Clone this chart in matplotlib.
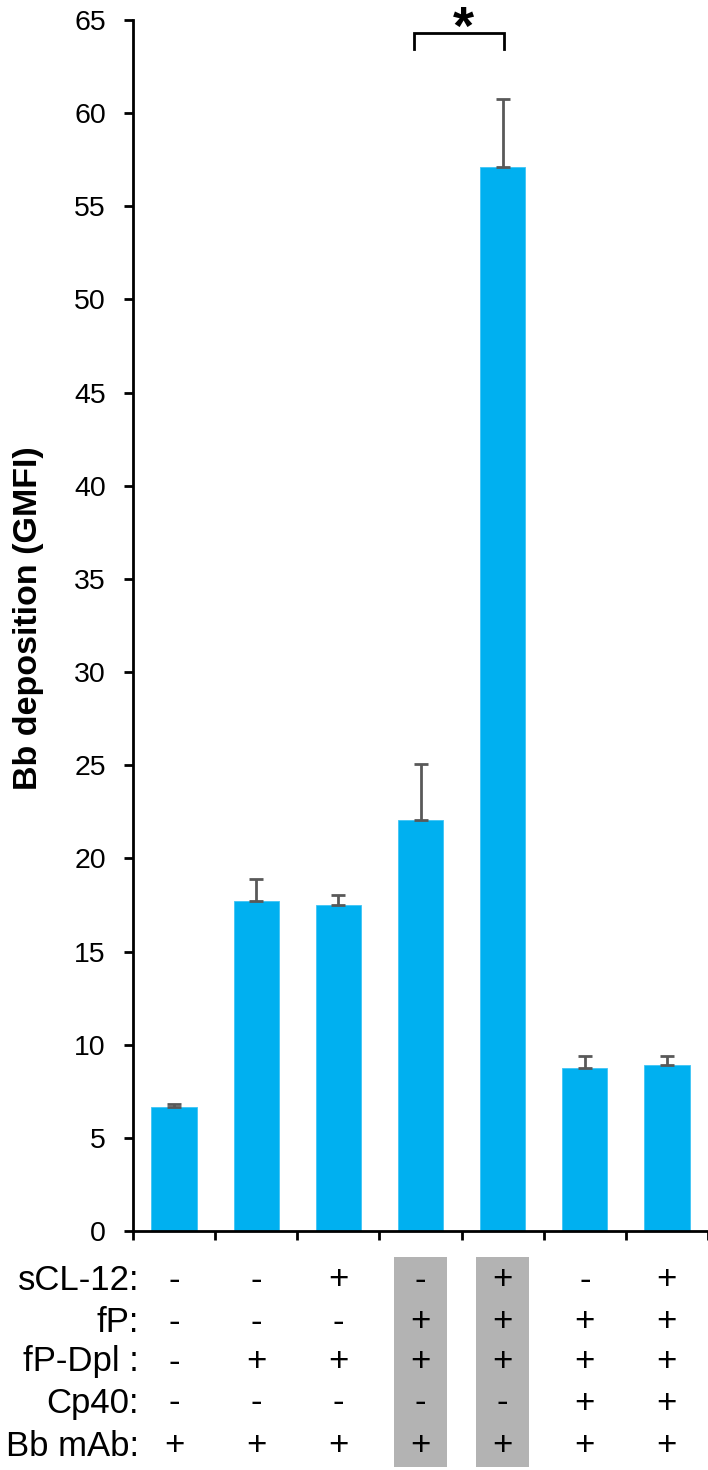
import matplotlib
matplotlib.use("Agg")
import matplotlib.pyplot as plt
import matplotlib.transforms as mtransforms
from matplotlib.patches import Rectangle
import numpy as np

plt.rcParams['font.family'] = ['Liberation Sans', 'DejaVu Sans']

# bar heights and upper error (absolute top of the whisker)
means = [6.65, 17.7, 17.5, 22.05, 57.1, 8.75, 8.9]
err_top = [6.8, 18.9, 18.05, 25.05, 60.75, 9.4, 9.4]
errs = [t - m for t, m in zip(err_top, means)]

row_labels = ['sCL-12:', 'fP:', 'fP-Dpl :', 'Cp40:', 'Bb mAb:']
table = [
    ['-', '-', '+', '-', '+', '-', '+'],
    ['-', '-', '-', '+', '+', '+', '+'],
    ['-', '+', '+', '+', '+', '+', '+'],
    ['-', '-', '-', '-', '-', '+', '+'],
    ['+', '+', '+', '+', '+', '+', '+'],
]
highlight = [3, 4]
yticks = list(range(0, 70, 5))

W, H = 708, 1470
fig = plt.figure(figsize=(W / 100, H / 100), dpi=100)
ax = fig.add_axes([133 / W, 1 - 1231 / H, 575 / W, (1231 - 20) / H])

x = np.arange(len(means))
ax.bar(x, means, width=0.55, color='#00B0F0', edgecolor='#3FC4F5', linewidth=0.6, zorder=2)
ax.errorbar(x, means, yerr=[np.zeros(len(errs)), errs], fmt='none',
            ecolor='#595959', elinewidth=2, capsize=5, capthick=2, zorder=3)

ax.set_xlim(-0.5, len(means) - 0.5)
ax.set_ylim(0, 65)
ax.set_yticks(yticks)
ax.set_xticks(np.arange(-0.5, len(means), 1))
ax.set_xticklabels([])
ax.tick_params(axis='y', direction='out', length=6.5, width=2, labelsize=20.5, pad=13)
ax.tick_params(axis='x', direction='out', length=6.5, width=2)
for s in ['top', 'right']:
    ax.spines[s].set_visible(False)
for s in ['left', 'bottom']:
    ax.spines[s].set_linewidth(2)

ax.set_ylabel('Bb deposition (GMFI)', fontsize=24.5, fontweight='bold')
ax.yaxis.set_label_coords(44 / W, 1 - 618 / H, transform=fig.transFigure)

# significance bracket between columns 4 and 5
b_lo, b_hi = 63.45, 64.3
ax.plot([2.915, 2.915, 4.02, 4.02], [b_lo, b_hi, b_hi, b_lo], color='black', lw=2,
        clip_on=False, solid_joinstyle='miter')
ax.text(3.52, 63.7, '*', ha='center', va='baseline', fontsize=39, fontweight='bold',
        clip_on=False)

# condition table below the axis
trans = mtransforms.blended_transform_factory(ax.transData, fig.transFigure)
row_y = [1280, 1322, 1362, 1403, 1446]
for c in highlight:
    ax.add_patch(Rectangle((c - 0.32, 1 - 1467 / H), 0.64, (1467 - 1257) / H,
                           transform=trans, facecolor='#B3B3B3', edgecolor='none',
                           clip_on=False, zorder=0))
for r, (lab, ypx) in enumerate(zip(row_labels, row_y)):
    fig.text(139 / W, 1 - ypx / H, lab, ha='right', va='center', fontsize=25)
    for c, sym in enumerate(table[r]):
        ax.text(c, 1 - ypx / H, sym, transform=trans, ha='center', va='center',
                fontsize=25, clip_on=False)

fig.savefig('out.png', dpi=100)
